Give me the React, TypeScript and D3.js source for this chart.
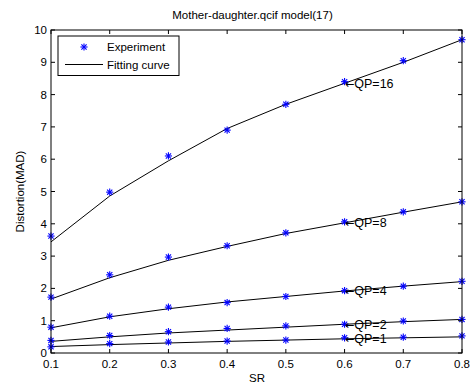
import React from "react";
import * as d3 from "d3";

const srValues = [0.1, 0.2, 0.3, 0.4, 0.5, 0.6, 0.7, 0.8];
const qpLabels = ["QP=16", "QP=8", "QP=4", "QP=2", "QP=1"];
const experiment = [
  [3.62, 4.98, 6.1, 6.9, 7.7, 8.4, 9.05, 9.7],
  [1.73, 2.42, 2.97, 3.32, 3.72, 4.06, 4.37, 4.68],
  [0.8, 1.14, 1.42, 1.56, 1.75, 1.93, 2.07, 2.22],
  [0.39, 0.54, 0.66, 0.76, 0.84, 0.89, 0.99, 1.04],
  [0.19, 0.29, 0.34, 0.37, 0.4, 0.47, 0.49, 0.53],
];
const fitting = [
  [3.44, 4.86, 5.95, 6.95, 7.7, 8.35, 9.0, 9.7],
  [1.67, 2.33, 2.87, 3.3, 3.7, 4.03, 4.36, 4.68],
  [0.78, 1.12, 1.37, 1.58, 1.75, 1.92, 2.07, 2.21],
  [0.36, 0.5, 0.62, 0.71, 0.8, 0.89, 0.97, 1.04],
  [0.2, 0.26, 0.31, 0.36, 0.4, 0.44, 0.47, 0.5],
];
const xTicks = [0.1, 0.2, 0.3, 0.4, 0.5, 0.6, 0.7, 0.8];
const yTicks = [0, 1, 2, 3, 4, 5, 6, 7, 8, 9, 10];
const labelIndex = 5;

const W = 471, H = 383;
const L = 51, R = 462, T = 30, B = 353;
const FS = 11.5;

function Star({ x, y }: { x: number; y: number }) {
  const s = 3.6, d = 2.6;
  return (
    <g stroke="#0000ff" strokeWidth={1.1}>
      <line x1={x - s} y1={y} x2={x + s} y2={y} />
      <line x1={x} y1={y - s} x2={x} y2={y + s} />
      <line x1={x - d} y1={y - d} x2={x + d} y2={y + d} />
      <line x1={x - d} y1={y + d} x2={x + d} y2={y - d} />
    </g>
  );
}

export default function App() {
  const x = d3.scaleLinear().domain([0.1, 0.8]).range([L, R]);
  const y = d3.scaleLinear().domain([0, 10]).range([B, T]);
  const line = d3
    .line<number>()
    .x((_, i) => x(srValues[i]))
    .y((d) => y(d));
  const font = "Liberation Sans, Arial, sans-serif";
  return (
    <svg
      width={W}
      height={H}
      style={{ position: "absolute", left: 0, top: 0, background: "#fff" }}
      fontFamily={font}
    >
      <rect x={0} y={0} width={W} height={H} fill="#fff" />
      <text x={(L + R) / 2 - 4} y={19} fontSize={FS} textAnchor="middle">
        Mother-daughter.qcif model(17)
      </text>
      {fitting.map((s, k) => (
        <path key={"f" + k} d={line(s) || ""} fill="none" stroke="#000" strokeWidth={1} />
      ))}
      {experiment.map((s, k) =>
        s.map((v, i) => <Star key={"e" + k + "_" + i} x={x(srValues[i])} y={y(v)} />)
      )}
      {qpLabels.map((lab, k) => (
        <text
          key={"l" + k}
          x={x(srValues[labelIndex]) + 0.5}
          y={y(fitting[k][labelIndex]) + 4.5}
          fontSize={12.5}
        >
          <tspan fontFamily="DejaVu Sans" fontSize={11}>{"\u2190"}</tspan>
          {lab}
        </text>
      ))}
      {/* axes box */}
      <rect x={L} y={T} width={R - L} height={B - T} fill="none" stroke="#000" strokeWidth={1} />
      {xTicks.map((t) => (
        <g key={"x" + t}>
          <line x1={x(t)} y1={B} x2={x(t)} y2={B - 4} stroke="#000" />
          <line x1={x(t)} y1={T} x2={x(t)} y2={T + 4} stroke="#000" />
          <text x={x(t)} y={B + 14.5} fontSize={FS} textAnchor="middle">
            {t.toFixed(1)}
          </text>
        </g>
      ))}
      {yTicks.map((t) => (
        <g key={"y" + t}>
          <line x1={L} y1={y(t)} x2={L + 4} y2={y(t)} stroke="#000" />
          <line x1={R} y1={y(t)} x2={R - 4} y2={y(t)} stroke="#000" />
          <text x={L - 4} y={y(t) + 4} fontSize={FS} textAnchor="end">
            {t}
          </text>
        </g>
      ))}
      <text x={257} y={382} fontSize={FS} textAnchor="middle">
        SR
      </text>
      <text
        transform={`translate(24, ${(T + B) / 2}) rotate(-90)`}
        fontSize={FS}
        textAnchor="middle"
      >
        Distortion(MAD)
      </text>
      {/* legend */}
      <rect x={58} y={36} width={121} height={39.5} fill="#fff" stroke="#000" strokeWidth={1} />
      <Star x={84} y={47} />
      <line x1={65} y1={64.5} x2={103} y2={64.5} stroke="#000" />
      <text x={107} y={51} fontSize={FS}>
        Experiment
      </text>
      <text x={107} y={69} fontSize={FS}>
        Fitting curve
      </text>
    </svg>
  );
}
